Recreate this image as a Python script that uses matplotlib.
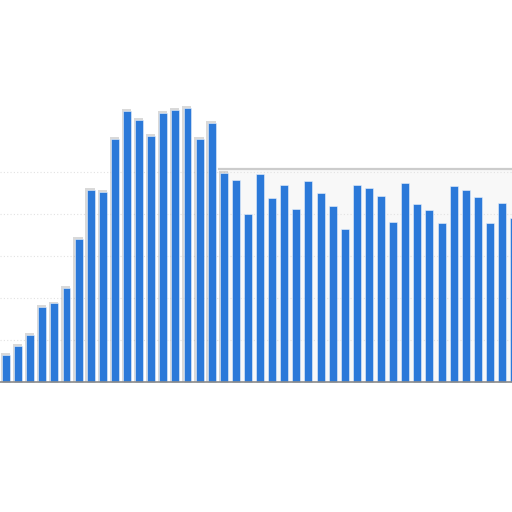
import matplotlib
matplotlib.use("Agg")
import matplotlib.pyplot as plt
import numpy as np
from matplotlib.patches import Rectangle

values = [
    6.4, 8.6, 11.2, 17.8, 18.7, 22.5, 34.0, 45.7, 45.2, 57.9,
    64.6, 62.4, 58.6, 64.1, 64.8, 65.2, 57.9, 61.6, 49.8, 48.1,
    40.0, 49.5, 43.7, 46.9, 41.1, 47.9, 45.1, 42.0, 36.4, 46.9,
    46.1, 44.4, 38.2, 47.3, 42.3, 41.0, 37.8, 46.7, 45.7, 44.0,
    37.9, 42.5, 39.1,
]
gridlines = [10, 20, 30, 40, 50]
panel_start = 17.6   # where the pale panel begins (in bar units)
panel_top = 50.6

x = np.arange(len(values))
bar_color = "#2b79d9"

fig = plt.figure(figsize=(5.12, 5.12), dpi=100)
ax = fig.add_axes([0, 0, 1, 1])
ax.set_xlim(-0.496, 41.82)
ax.set_ylim(-30.95, 90.95)
ax.axis("off")

# pale panel behind the right-hand part
ax.add_patch(Rectangle((panel_start, 0), 50, panel_top,
                       facecolor="#f8f8f8", edgecolor="none", zorder=0))
ax.plot([panel_start, 50], [panel_top, panel_top], color="#cccccc", lw=1.6, zorder=1)

for g in gridlines:
    ax.axhline(g, color="#e2e2e2", lw=0.8, ls=(0, (1, 2)), zorder=1)

# soft grey shadow on the left-side bars
left = x < 19
ax.bar(x[left] - 0.05, np.array(values)[left] + 0.45, width=0.76,
       color="#a0a0a0", alpha=0.4, zorder=2)
ax.bar(x, values, width=0.66, color=bar_color, edgecolor="#e8f0fb",
       linewidth=0.4, zorder=3)

ax.axhline(0, color="#8a8a8a", lw=1.2, zorder=4)

fig.savefig("out.png", dpi=100)
